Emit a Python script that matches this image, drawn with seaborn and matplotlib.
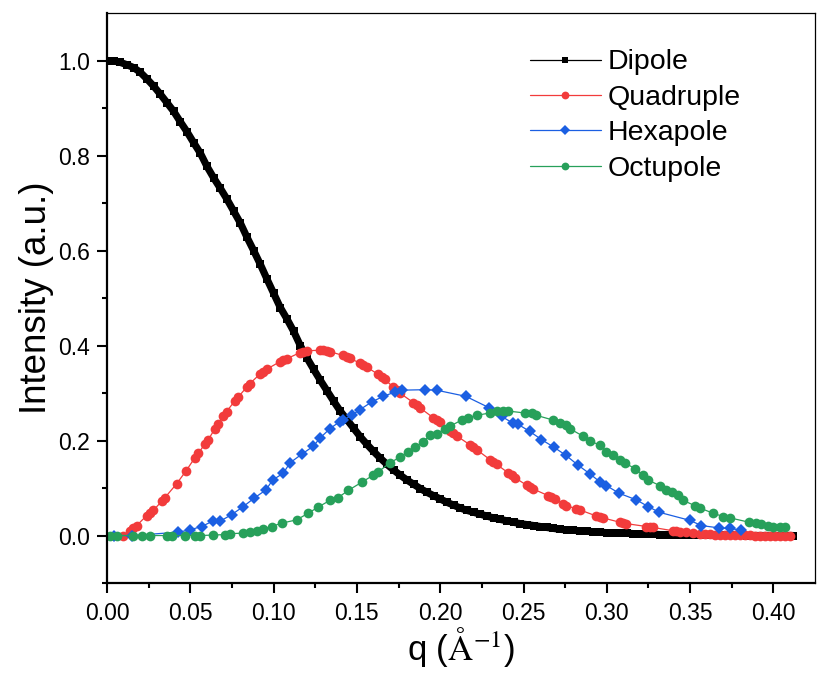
import numpy as np
import pandas as pd
import matplotlib
matplotlib.use("Agg")
import matplotlib.pyplot as plt
import seaborn as sns

# ---- data -------------------------------------------------------------
dipole_q = [
    0.000, 0.004, 0.008, 0.012, 0.016, 0.020, 0.024, 0.028, 0.032, 0.036,
    0.040, 0.044, 0.048, 0.052, 0.056, 0.060, 0.064, 0.068, 0.072, 0.076,
    0.080, 0.084, 0.088, 0.092, 0.096, 0.100, 0.104, 0.108, 0.112, 0.116,
    0.120, 0.124, 0.128, 0.132, 0.136, 0.140, 0.144, 0.148, 0.152, 0.156,
    0.160, 0.164, 0.168, 0.172, 0.176, 0.180, 0.184, 0.188, 0.192, 0.196,
    0.200, 0.204, 0.208, 0.212, 0.216, 0.220, 0.224, 0.228, 0.232, 0.236,
    0.240, 0.244, 0.248, 0.252, 0.256, 0.260, 0.264, 0.268, 0.272, 0.276,
    0.280, 0.284, 0.288, 0.292, 0.296, 0.300, 0.304, 0.308, 0.312, 0.316,
    0.320, 0.324, 0.328, 0.332, 0.336, 0.340, 0.344, 0.348, 0.352, 0.356,
    0.360, 0.364, 0.368, 0.372, 0.376, 0.380, 0.384, 0.388, 0.392, 0.396,
    0.400, 0.404, 0.408, 0.412,
]
dipole_i = [
    1.000, 0.999, 0.996, 0.991, 0.985, 0.975, 0.961, 0.946, 0.929, 0.911,
    0.893, 0.871, 0.850, 0.827, 0.805, 0.777, 0.753, 0.731, 0.708, 0.683,
    0.658, 0.628, 0.600, 0.571, 0.540, 0.510, 0.480, 0.456, 0.430, 0.400,
    0.374, 0.350, 0.327, 0.305, 0.283, 0.262, 0.244, 0.226, 0.208, 0.192,
    0.177, 0.163, 0.150, 0.138, 0.127, 0.117, 0.108, 0.099, 0.091, 0.084,
    0.077, 0.070, 0.064, 0.058, 0.053, 0.049, 0.045, 0.041, 0.037, 0.034,
    0.031, 0.028, 0.025, 0.023, 0.021, 0.019, 0.017, 0.015, 0.013, 0.012,
    0.011, 0.010, 0.009, 0.008, 0.007, 0.006, 0.006, 0.005, 0.005, 0.004,
    0.004, 0.003, 0.003, 0.002, 0.002, 0.002, 0.001, 0.001, 0.001, 0.001,
    0.001, 0.001, 0.001, 0.001, 0.001, 0.001, 0.000, 0.000, 0.000, 0.000,
    0.000, 0.000, 0.000, 0.000,
]

quad_q = [
    0.0098, 0.0138, 0.0158, 0.0178, 0.0238, 0.0258, 0.0278, 0.0328, 0.0348, 0.0418,
    0.0474, 0.0528, 0.0548, 0.0588, 0.0608, 0.0648, 0.0668, 0.0698, 0.0718, 0.0768,
    0.0788, 0.0838, 0.0858, 0.0918, 0.0938, 0.0958, 0.1038, 0.1058, 0.1078, 0.1158,
    0.1178, 0.1198, 0.1278, 0.1298, 0.1318, 0.1338, 0.1418, 0.1438, 0.1458, 0.1518,
    0.1538, 0.1558, 0.1628, 0.1648, 0.1668, 0.1718, 0.1738, 0.1758, 0.1838, 0.1858,
    0.1878, 0.1958, 0.1978, 0.1998, 0.2058, 0.2078, 0.2098, 0.2178, 0.2198, 0.2218,
    0.2298, 0.2318, 0.2338, 0.2408, 0.2428, 0.2448, 0.2518, 0.2538, 0.2558, 0.2648,
    0.2668, 0.2688, 0.2738, 0.2758, 0.2818, 0.2838, 0.2938, 0.2958, 0.2978, 0.3078,
    0.3098, 0.3118, 0.3238, 0.3258, 0.3278, 0.3398, 0.3418, 0.3438, 0.3478, 0.3518,
    0.3558, 0.3588, 0.3618, 0.3648, 0.3678, 0.3708, 0.3738, 0.3768, 0.3798, 0.3828,
    0.3858, 0.3888, 0.3918, 0.3948, 0.3978, 0.4008, 0.4038, 0.4068, 0.4098,
]
quad_i = [
    0.000, 0.010, 0.015, 0.021, 0.042, 0.048, 0.053, 0.072, 0.080, 0.109,
    0.136, 0.164, 0.173, 0.193, 0.202, 0.225, 0.234, 0.252, 0.261, 0.284,
    0.292, 0.312, 0.320, 0.340, 0.345, 0.350, 0.366, 0.369, 0.372, 0.385,
    0.387, 0.389, 0.390, 0.390, 0.389, 0.387, 0.379, 0.376, 0.373, 0.363,
    0.359, 0.355, 0.339, 0.334, 0.329, 0.312, 0.306, 0.300, 0.280, 0.274,
    0.269, 0.248, 0.243, 0.238, 0.221, 0.215, 0.210, 0.191, 0.186, 0.181,
    0.160, 0.155, 0.150, 0.132, 0.127, 0.122, 0.106, 0.102, 0.098, 0.084,
    0.081, 0.077, 0.067, 0.063, 0.056, 0.054, 0.041, 0.039, 0.037, 0.028,
    0.026, 0.025, 0.019, 0.018, 0.017, 0.010, 0.009, 0.008, 0.007, 0.005,
    0.004, 0.003, 0.003, 0.002, 0.002, 0.002, 0.001, 0.001, 0.001, 0.001,
    0.001, 0.000, 0.000, 0.000, 0.000, 0.000, 0.000, 0.000, 0.000,
]

hexa_q = [
    0.0040, 0.0150, 0.0428, 0.0498, 0.0568, 0.0638, 0.0678, 0.0748, 0.0818, 0.0884,
    0.0954, 0.0994, 0.1058, 0.1098, 0.1168, 0.1238, 0.1278, 0.1338, 0.1398, 0.1418,
    0.1468, 0.1518, 0.1588, 0.1658, 0.1728, 0.1768, 0.1908, 0.1978, 0.2154, 0.2294,
    0.2368, 0.2434, 0.2468, 0.2538, 0.2608, 0.2682, 0.2754, 0.2828, 0.2898, 0.2962,
    0.2998, 0.3074, 0.3178, 0.3248, 0.3314, 0.3498, 0.3568, 0.3674, 0.3742, 0.3808,
]
hexa_i = [
    0.000, 0.000, 0.007, 0.012, 0.019, 0.031, 0.030, 0.044, 0.061, 0.079,
    0.096, 0.117, 0.131, 0.153, 0.171, 0.188, 0.205, 0.225, 0.240, 0.243,
    0.253, 0.265, 0.281, 0.293, 0.302, 0.306, 0.307, 0.306, 0.293, 0.269,
    0.251, 0.237, 0.234, 0.219, 0.202, 0.186, 0.169, 0.148, 0.130, 0.112,
    0.105, 0.089, 0.075, 0.061, 0.049, 0.032, 0.021, 0.016, 0.015, 0.011,
]

octu_q = [
    0.0020, 0.0060, 0.0158, 0.0208, 0.0258, 0.0360, 0.0390, 0.0470, 0.0528, 0.0558,
    0.0638, 0.0708, 0.0738, 0.0818, 0.0858, 0.0898, 0.0938, 0.0988, 0.1048, 0.1138,
    0.1208, 0.1268, 0.1338, 0.1388, 0.1448, 0.1528, 0.1598, 0.1628, 0.1698, 0.1758,
    0.1808, 0.1848, 0.1898, 0.1938, 0.1978, 0.2028, 0.2058, 0.2128, 0.2168, 0.2218,
    0.2298, 0.2338, 0.2378, 0.2408, 0.2508, 0.2548, 0.2578, 0.2678, 0.2718, 0.2758,
    0.2778, 0.2858, 0.2898, 0.2962, 0.2998, 0.3038, 0.3078, 0.3108, 0.3168, 0.3218,
    0.3248, 0.3318, 0.3358, 0.3394, 0.3428, 0.3458, 0.3528, 0.3558, 0.3638, 0.3698,
    0.3742, 0.3854, 0.3898, 0.3928, 0.3968, 0.3998, 0.4038, 0.4068,
]
octu_i = [
    0.000, 0.000, 0.000, 0.000, 0.000, 0.000, 0.000, 0.000, 0.000, 0.000,
    0.001, 0.002, 0.004, 0.005, 0.007, 0.010, 0.014, 0.019, 0.026, 0.033,
    0.047, 0.060, 0.074, 0.080, 0.095, 0.112, 0.127, 0.134, 0.153, 0.165,
    0.176, 0.186, 0.197, 0.211, 0.213, 0.225, 0.230, 0.243, 0.248, 0.253,
    0.258, 0.262, 0.262, 0.262, 0.258, 0.257, 0.253, 0.243, 0.237, 0.232,
    0.225, 0.209, 0.199, 0.190, 0.176, 0.169, 0.160, 0.153, 0.141, 0.127,
    0.117, 0.105, 0.095, 0.091, 0.086, 0.074, 0.063, 0.058, 0.047, 0.040,
    0.037, 0.028, 0.027, 0.025, 0.021, 0.019, 0.019, 0.018,
]

series_names = ["Dipole", "Quadruple", "Hexapole", "Octupole"]
x_ticks = [0.00, 0.05, 0.10, 0.15, 0.20, 0.25, 0.30, 0.35, 0.40]
y_ticks = [0.0, 0.2, 0.4, 0.6, 0.8, 1.0]

# ---- styling ----------------------------------------------------------
sns.set_theme(style="white")
plt.rcParams["font.family"] = ["Liberation Sans", "DejaVu Sans"]
plt.rcParams["mathtext.fontset"] = "stix"
plt.rcParams["text.color"] = "black"
plt.rcParams["axes.labelcolor"] = "black"
plt.rcParams["xtick.labelcolor"] = "black"
plt.rcParams["ytick.labelcolor"] = "black"

colors = {"Dipole": "#000000", "Quadruple": "#F23B3B",
          "Hexapole": "#1B5FE2", "Octupole": "#27A05A"}
markers = {"Dipole": "s", "Quadruple": "o", "Hexapole": "D", "Octupole": "o"}
msizes = {"Dipole": 5.4, "Quadruple": 7.0, "Hexapole": 6.4, "Octupole": 7.0}

frames = []
for name, q, inten in zip(series_names,
                          [dipole_q, quad_q, hexa_q, octu_q],
                          [dipole_i, quad_i, hexa_i, octu_i]):
    frames.append(pd.DataFrame({"q": q, "I": inten, "series": name}))
df = pd.concat(frames, ignore_index=True)

fig = plt.figure(figsize=(8.17, 6.77), dpi=100)
ax = fig.add_axes([0.131, 0.1388, 0.8666, 0.842])

# the densely sampled dipole curve reads as one solid band of squares
dip = df[df["series"] == "Dipole"]
sns.lineplot(data=dip, x="q", y="I", ax=ax, color="black", linewidth=5.2,
             estimator=None, sort=True, legend=False,
             solid_capstyle="butt")

for name in series_names:
    sub = df[df["series"] == name]
    sns.lineplot(data=sub, x="q", y="I", ax=ax, color=colors[name],
                 marker=markers[name], markersize=msizes[name],
                 markeredgewidth=0, linewidth=0.9, label=name,
                 estimator=None, sort=True)

ax.set_xlim(0, 0.425)
ax.set_ylim(-0.1, 1.1)
ax.set_xticks(x_ticks)
ax.set_xticklabels([f"{t:.2f}" for t in x_ticks])
ax.set_yticks(y_ticks)
ax.set_yticklabels([f"{t:.1f}" for t in y_ticks])
ax.set_xticks(np.arange(0.025, 0.42, 0.05), minor=True)
ax.set_yticks([-0.1, 0.1, 0.3, 0.5, 0.7, 0.9], minor=True)

for side in ["left", "bottom"]:
    ax.spines[side].set_linewidth(1.6)
for side in ["top", "right"]:
    ax.spines[side].set_linewidth(0.9)
for s in ax.spines.values():
    s.set_color("black")

ax.tick_params(axis="both", which="major", direction="out", length=7,
               width=1.5, labelsize=16.5, color="black", labelcolor="black",
               bottom=True, left=True, top=False, right=False)
ax.tick_params(axis="x", which="major", pad=6.5)
ax.tick_params(axis="y", which="major", pad=5.5)
ax.tick_params(axis="both", which="minor", direction="out", length=3.5,
               width=1.5, color="black",
               bottom=True, left=True, top=False, right=False)
ax.grid(False)

ax.set_ylabel("Intensity (a.u.)", fontsize=26.5, labelpad=3, color="black")
ax.set_xlabel(r"q ($\mathrm{\AA^{-1}}$)", fontsize=25, labelpad=0,
              color="black")

leg = ax.legend(loc="upper left", bbox_to_anchor=(0.597, 0.936),
                frameon=False, fontsize=20.5, handlelength=2.5,
                handletextpad=0.22, labelspacing=0.33, borderpad=0,
                borderaxespad=0, markerscale=0.8, labelcolor="black")

fig.savefig("out.png", dpi=100, facecolor="white")
